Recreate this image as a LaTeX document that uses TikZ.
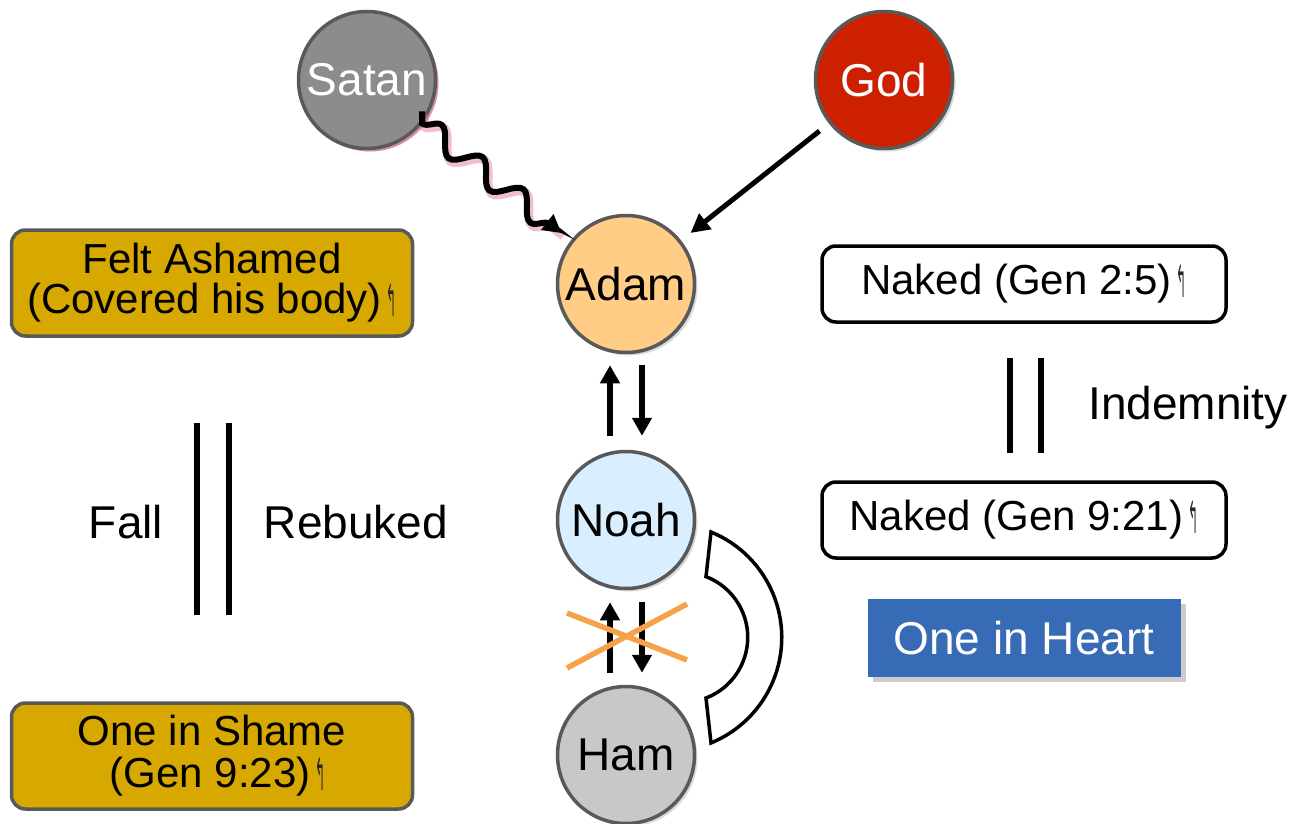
\documentclass[tikz,border=0pt]{standalone}
\usepackage{fontspec}
\usepackage{graphicx}
\setmainfont{Liberation Sans}
\newfontfamily\dejavu{DejaVu Sans}
\usetikzlibrary{arrows.meta,shadows,decorations.pathmorphing}
\definecolor{goldfill}{HTML}{D6A800}
\definecolor{bordergray}{HTML}{595959}
\definecolor{satangray}{HTML}{8C8C8C}
\definecolor{godred}{HTML}{CC2000}
\definecolor{adamorange}{HTML}{FFCD85}
\definecolor{noahblue}{HTML}{D9EFFF}
\definecolor{hamgray}{HTML}{C8C8C8}
\definecolor{heartblue}{HTML}{376BB6}
\definecolor{crossorange}{HTML}{F6A24A}
\definecolor{glowpink}{HTML}{D9607A}
\newcommand\brkmark{\hspace{5pt}{\dejavu\fontsize{40}{40}\selectfont\color{black!85}\raisebox{-3pt}{\scalebox{0.3}[1.12]{↰}}}}
\newcommand\lowtext[1]{\raisebox{-4pt}{#1}}
\tikzset{
  person/.style={circle, draw=bordergray, line width=3.5pt, minimum size=137pt, inner sep=0pt,
    font=\fontsize{46}{50}\selectfont,
    drop shadow={shadow xshift=3pt, shadow yshift=-3pt, opacity=0.3}},
  goldbox/.style={rounded corners=14pt, fill=goldfill, draw=bordergray, line width=3.5pt,
    minimum width=401pt, minimum height=106pt, align=center, inner sep=0pt,
    font=\fontsize{42}{40}\selectfont},
  nakedbox/.style={rounded corners=14pt, fill=white, draw=black, line width=3.5pt,
    minimum width=404pt, minimum height=76pt, align=center, inner sep=0pt,
    font=\fontsize{42}{40}\selectfont},
  plainlabel/.style={font=\fontsize{46}{50}\selectfont, inner sep=0pt},
  arr/.style={line width=6pt, -{Triangle[length=18pt,width=19pt]}},
  dline/.style={line width=6pt},
  wavy/.style={decorate, decoration={snake, amplitude=11pt, segment length=52pt, post length=18pt},
    shorten <=12pt, shorten >=12pt},
}
\begin{document}
\begin{tikzpicture}[x=1pt,y=1pt]
\useasboundingbox (0,0) rectangle (1295,-824);
% people
\node[person, fill=satangray, text=white,
  drop shadow={shadow xshift=3pt, shadow yshift=-3pt, fill=glowpink, opacity=0.6}] (satan) at (367,-80) {\lowtext{Satan}};
\node[person, fill=godred, text=white] (god) at (884,-80) {\lowtext{God}};
\node[person, fill=adamorange] (adam) at (626,-284) {\lowtext{Adam}};
\node[person, fill=noahblue] (noah) at (626,-520) {\lowtext{Noah}};
\node[person, fill=hamgray] (ham) at (626,-755) {\lowtext{Ham}};
% boxes
\node[goldbox] (ashamed) at (212,-283) {Felt Ashamed\\(Covered his body)\brkmark};
\node[goldbox] (shame) at (212,-756) {One in Shame\\[2pt]\ (Gen 9:23)\brkmark};
\node[nakedbox] (naked1) at (1024,-284) {Naked (Gen 2:5)\brkmark};
\node[nakedbox] (naked2) at (1024,-520) {Naked (Gen 9:21)\brkmark};
\node[fill=heartblue, text=white, minimum width=313pt, minimum height=78pt, inner sep=0pt,
  font=\fontsize{46}{50}\selectfont,
  drop shadow={shadow xshift=5pt, shadow yshift=-5pt, opacity=0.4}] (heart) at (1024,-638) {One in Heart};
% labels
\node[plainlabel] (fall) at (126,-522) {Fall};
\node[plainlabel] (rebuked) at (356,-522) {Rebuked};
\node[plainlabel] (indemnity) at (1188,-408) {Indemnity};
% double lines
\coordinate (l1t) at (197,-423); \coordinate (l1b) at (197,-615);
\coordinate (l2t) at (229,-423); \coordinate (l2b) at (229,-615);
\coordinate (r1t) at (1010,-358); \coordinate (r1b) at (1010,-453);
\coordinate (r2t) at (1041,-358); \coordinate (r2b) at (1041,-453);
\draw[dline] (l1t) -- (l1b);
\draw[dline] (l2t) -- (l2b);
\draw[dline] (r1t) -- (r1b);
\draw[dline] (r2t) -- (r2b);
% Satan wavy arrow (glow then arrow)
\draw[glowpink, opacity=0.4, line width=9pt, wavy, transform canvas={xshift=2pt,yshift=-3pt}] (satan) -- (adam);
\draw[line width=6pt, -{Triangle[length=18pt,width=19pt]}, wavy] (satan) -- (adam);
% God arrow
\draw[line width=5pt, -{Triangle[length=19pt,width=19pt]}, shorten <=12pt, shorten >=12pt] (god) -- (adam);
% Adam <-> Noah
\draw[arr] ([shift={(-16pt,14pt)}]noah.north) -- ([shift={(-16pt,-11pt)}]adam.south);
\draw[arr] ([shift={(16pt,-11pt)}]adam.south) -- ([shift={(16pt,14pt)}]noah.north);
% Noah <-> Ham
\draw[arr] ([shift={(-16pt,12pt)}]ham.north) -- ([shift={(-16pt,-12pt)}]noah.south);
\draw[arr] ([shift={(16pt,-12pt)}]noah.south) -- ([shift={(16pt,12pt)}]ham.north);
% orange cross
\draw[crossorange, line width=5.5pt] (567,-613) -- (687,-660);
\draw[crossorange, line width=5.5pt] (567,-668) -- (687,-604);
% bracket
\draw[line width=3.5pt, fill=white] (711,-532) arc[start angle=67.7, end angle=-67.7, radius=114]
  -- (706,-698) arc[start angle=-69, end angle=69, radius=65] -- cycle;
\end{tikzpicture}
\end{document}
